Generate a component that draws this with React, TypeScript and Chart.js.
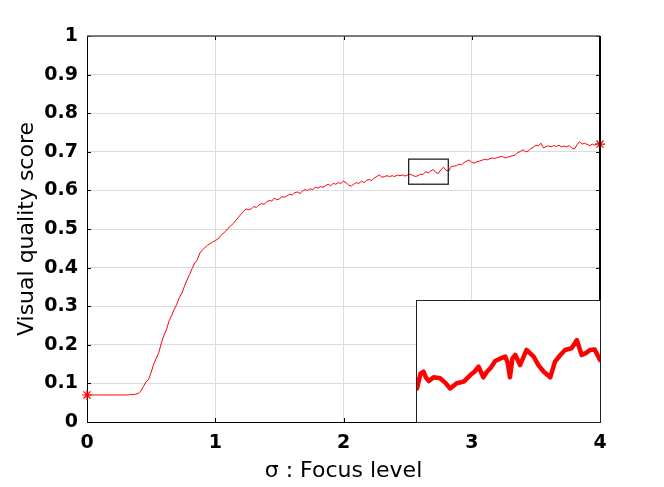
import React, { useEffect, useRef } from "react";
import { Chart, registerables } from "chart.js";
Chart.register(...registerables);

// ---- data ----
const sigmaStep = 0.02; // sampling step of the focus level (0 .. 4)
const qualityScores = [
  0.070, 0.070, 0.070, 0.070, 0.070, 0.070, 0.070, 0.070, 0.070, 0.070,
  0.070, 0.070, 0.070, 0.070, 0.070, 0.070, 0.070, 0.071, 0.071, 0.072,
  0.074, 0.080, 0.092, 0.104, 0.110, 0.128, 0.150, 0.165, 0.180, 0.205,
  0.225, 0.240, 0.262, 0.276, 0.292, 0.305, 0.322, 0.334, 0.352, 0.368,
  0.382, 0.398, 0.412, 0.420, 0.438, 0.446, 0.452, 0.458, 0.462, 0.466,
  0.470, 0.474, 0.482, 0.488, 0.494, 0.502, 0.508, 0.514, 0.522, 0.530,
  0.538, 0.546, 0.552, 0.550, 0.552, 0.558, 0.556, 0.562, 0.566, 0.564,
  0.570, 0.574, 0.572, 0.580, 0.576, 0.578, 0.584, 0.582, 0.586, 0.590,
  0.588, 0.594, 0.596, 0.592, 0.598, 0.602, 0.600, 0.604, 0.602, 0.608,
  0.606, 0.610, 0.608, 0.612, 0.616, 0.612, 0.618, 0.616, 0.620, 0.618,
  0.624, 0.620, 0.614, 0.611, 0.616, 0.620, 0.618, 0.624, 0.620, 0.626,
  0.628, 0.626, 0.632, 0.636, 0.640, 0.634, 0.636, 0.638, 0.636, 0.638,
  0.636, 0.640, 0.638, 0.640, 0.637, 0.640, 0.642, 0.639, 0.636, 0.638,
  0.642, 0.641, 0.649, 0.645, 0.650, 0.654, 0.646, 0.644, 0.654, 0.660,
  0.652, 0.650, 0.662, 0.663, 0.664, 0.668, 0.666, 0.672, 0.676, 0.679,
  0.672, 0.671, 0.674, 0.676, 0.678, 0.681, 0.679, 0.682, 0.684, 0.683,
  0.685, 0.687, 0.688, 0.684, 0.686, 0.688, 0.690, 0.692, 0.698, 0.701,
  0.705, 0.700, 0.702, 0.708, 0.712, 0.717, 0.716, 0.722, 0.710, 0.714,
  0.715, 0.713, 0.716, 0.714, 0.717, 0.713, 0.715, 0.713, 0.716, 0.710,
  0.707, 0.718, 0.726, 0.720, 0.722, 0.719, 0.716, 0.720, 0.717, 0.722,
  0.720,
];

const xTicks = [0, 1, 2, 3, 4];
const yTicks = [0, 0.1, 0.2, 0.3, 0.4, 0.5, 0.6, 0.7, 0.8, 0.9, 1];
const yTickLabels = ["0", "0.1", "0.2", "0.3", "0.4", "0.5", "0.6", "0.7", "0.8", "0.9", "1"];

const zoomWindow = { xMin: 2.508, xMax: 2.817, yMin: 0.616, yMax: 0.681 };

const insetSigma = [
  2.508, 2.514, 2.519, 2.523, 2.528, 2.536, 2.547, 2.556, 2.564, 2.575,
  2.587, 2.598, 2.605, 2.612, 2.620, 2.626, 2.632, 2.640, 2.648, 2.657,
  2.661, 2.665, 2.669, 2.674, 2.682, 2.693, 2.705, 2.713, 2.722, 2.733,
  2.741, 2.750, 2.758, 2.769, 2.778, 2.786, 2.793, 2.800, 2.808, 2.817,
];
const insetScores = [
  0.634, 0.642, 0.643, 0.640, 0.638, 0.640, 0.6395, 0.637, 0.634, 0.6368,
  0.6377, 0.6412, 0.643, 0.6457, 0.640, 0.643, 0.6449, 0.6488, 0.650, 0.6511,
  0.648, 0.640, 0.650, 0.652, 0.6466, 0.6547, 0.6511, 0.6466, 0.643, 0.640,
  0.6484, 0.652, 0.6547, 0.6556, 0.660, 0.652, 0.653, 0.6547, 0.655, 0.6493,
];

const FONT = "DejaVu Sans";

const framePlugin = {
  id: "frame",
  afterDatasetsDraw(chart: any) {
    const { ctx, chartArea: a, scales } = chart;
    ctx.save();
    const line = (x1: number, y1: number, x2: number, y2: number) => {
      ctx.beginPath();
      ctx.moveTo(x1, y1);
      ctx.lineTo(x2, y2);
      ctx.stroke();
    };
    ctx.strokeStyle = "#000";
    ctx.lineWidth = 1;
    yTicks.forEach((v) => {
      const y = Math.round(scales.y.getPixelForValue(v)) + 0.5;
      line(a.left, y, a.left + 4, y);
      line(a.right - 4, y, a.right, y);
    });
    xTicks.forEach((v) => {
      const x = Math.round(scales.x.getPixelForValue(v)) + 0.5;
      line(x, a.bottom, x, a.bottom - 4);
      line(x, a.top, x, a.top + 4);
    });
    // top border
    ctx.strokeStyle = "#555";
    ctx.lineWidth = 1.5;
    line(a.left, a.top, a.right, a.top);
    // right border
    ctx.strokeStyle = "#000";
    ctx.lineWidth = 2;
    line(a.right, a.top, a.right, a.bottom);
    // zoom window rectangle
    const x0 = scales.x.getPixelForValue(zoomWindow.xMin);
    const x1 = scales.x.getPixelForValue(zoomWindow.xMax);
    const y0 = scales.y.getPixelForValue(zoomWindow.yMax);
    const y1 = scales.y.getPixelForValue(zoomWindow.yMin);
    ctx.strokeStyle = "#222";
    ctx.lineWidth = 1.3;
    ctx.strokeRect(x0, y0, x1 - x0, y1 - y0);
    ctx.restore();
  },
};

export default function App() {
  const mainRef = useRef<HTMLCanvasElement>(null);
  const insetRef = useRef<HTMLCanvasElement>(null);

  useEffect(() => {
    document.body.style.margin = "0";
    const points = qualityScores.map((v, i) => ({ x: i * sigmaStep, y: v }));
    const radii = qualityScores.map((_, i) =>
      i === 0 || i === qualityScores.length - 1 ? 5 : 0
    );
    const main = new Chart(mainRef.current!, {
      type: "line",
      data: {
        datasets: [
          {
            data: points,
            borderColor: "#ff0000",
            borderWidth: 1,
            pointRadius: radii,
            pointHoverRadius: 0,
            pointStyle: "star",
            pointBorderColor: "#ff0000",
            pointBackgroundColor: "#ff0000",
            pointBorderWidth: 1.2,
            tension: 0,
            clip: false as any,
          },
        ],
      },
      options: {
        animation: false,
        responsive: true,
        maintainAspectRatio: false,
        layout: { padding: { left: 0, top: 36, right: 64, bottom: 0 } },
        plugins: { legend: { display: false }, tooltip: { enabled: false } },
        events: [],
        scales: {
          x: {
            type: "linear",
            min: 0,
            max: 4,
            afterBuildTicks: (s: any) => {
              s.ticks = xTicks.map((v) => ({ value: v }));
            },
            afterFit: (s: any) => {
              s.height = 65;
            },
            ticks: {
              color: "#000",
              font: { family: FONT, size: 19, weight: "bold" },
              padding: 10,
              maxRotation: 0,
              callback: (_v: any, i: number) => String(xTicks[i]),
            },
            grid: { color: "#dcdcdc", lineWidth: 1, drawTicks: false },
            border: { color: "#000", width: 1 },
            title: {
              display: true,
              text: "σ : Focus level",
              color: "#000",
              font: { family: FONT, size: 22 },
              padding: { top: 0, bottom: 3 },
            },
          },
          y: {
            type: "linear",
            min: 0,
            max: 1,
            afterBuildTicks: (s: any) => {
              s.ticks = yTicks.map((v) => ({ value: v }));
            },
            afterFit: (s: any) => {
              s.width = 87;
            },
            ticks: {
              color: "#000",
              font: { family: FONT, size: 19, weight: "bold" },
              padding: 9,
              callback: (_v: any, i: number) => yTickLabels[i],
            },
            grid: { color: "#dcdcdc", lineWidth: 1, drawTicks: false },
            border: { color: "#000", width: 1 },
            title: {
              display: true,
              text: "Visual quality score",
              color: "#000",
              font: { family: FONT, size: 22 },
              padding: { top: 14, bottom: 0 },
            },
          },
        },
      },
      plugins: [framePlugin],
    });

    const inset = new Chart(insetRef.current!, {
      type: "line",
      data: {
        datasets: [
          {
            data: insetSigma.map((x, i) => ({ x, y: insetScores[i] })),
            borderColor: "#ff0000",
            borderWidth: 4.5,
            pointRadius: 0,
            tension: 0,
            borderJoinStyle: "round",
            borderCapStyle: "round",
          },
        ],
      },
      options: {
        animation: false,
        responsive: true,
        maintainAspectRatio: false,
        events: [],
        layout: { padding: 0 },
        plugins: { legend: { display: false }, tooltip: { enabled: false } },
        scales: {
          x: { type: "linear", display: false, min: zoomWindow.xMin, max: zoomWindow.xMax },
          y: { type: "linear", display: false, min: zoomWindow.yMin, max: zoomWindow.yMax },
        },
      },
    });

    return () => {
      main.destroy();
      inset.destroy();
    };
  }, []);

  return (
    <div style={{ position: "fixed", left: 0, top: 0, width: 664, height: 487, background: "#fff" }}>
      <canvas ref={mainRef} />
      <div
        style={{
          position: "absolute",
          left: 416,
          top: 300,
          width: 185,
          height: 123,
          boxSizing: "border-box",
          border: "1.5px solid #222",
          background: "#fff",
        }}
      >
        <div style={{ position: "relative", width: "100%", height: "100%" }}>
          <canvas ref={insetRef} />
        </div>
      </div>
    </div>
  );
}
